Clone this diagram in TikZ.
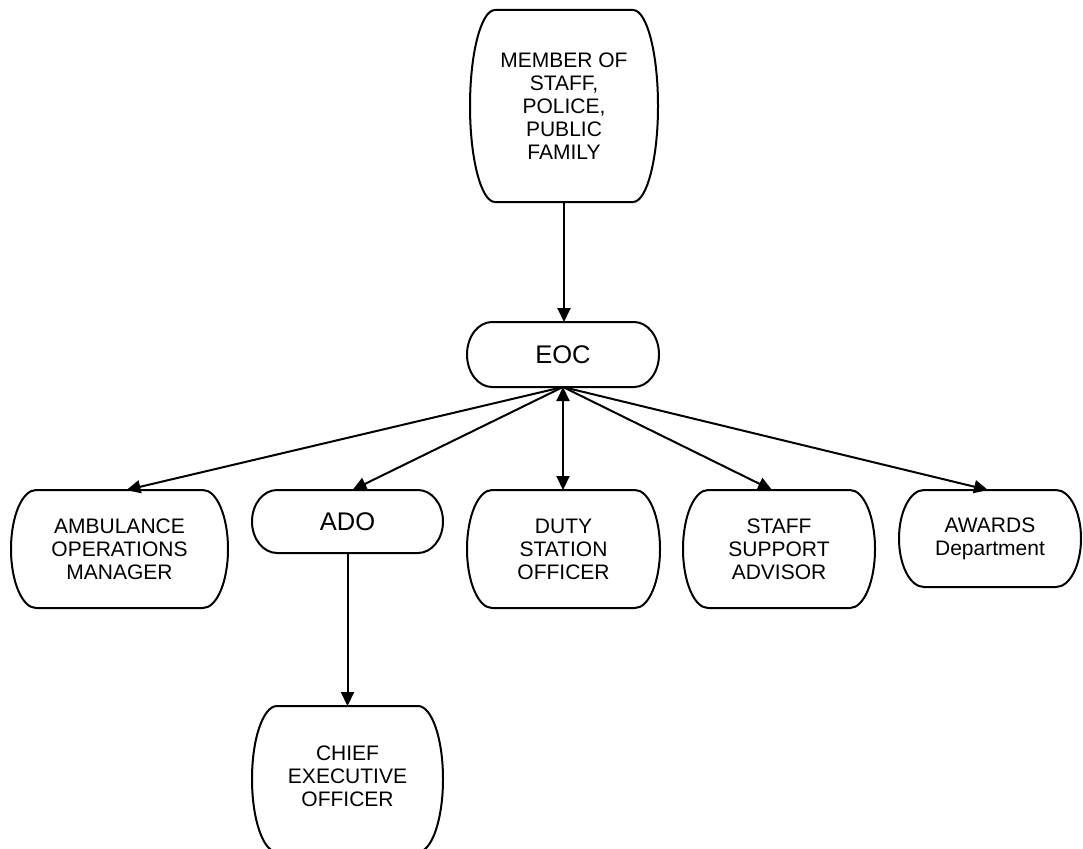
\documentclass[tikz,border=0pt]{standalone}
\usepackage{fontspec}
\setmainfont{Liberation Sans}
\usetikzlibrary{arrows.meta}
\tikzset{
  boxline/.style={line width=2pt},
  txt/.style={inner sep=0pt, outer sep=0pt, align=center, font=\fontsize{21}{23}\selectfont},
  bigtxt/.style={font=\fontsize{25.5}{28}\selectfont},
  arr/.style={line width=2pt, -{Triangle[length=14pt,width=13pt]}},
  dblarr/.style={line width=2pt, {Triangle[length=14pt,width=13pt]}-{Triangle[length=14pt,width=13pt]}},
}
\newcommand\TermBox[7]{%
  \node[txt,#6,minimum width=#4pt,minimum height=#5pt] (#1) at (#2pt,-#3pt) {#7};
  \draw[boxline] ([xshift=25pt]#1.north west) -- ([xshift=-25pt]#1.north east)
    arc[start angle=90,end angle=-90,x radius=25pt,y radius=#5pt/2]
    -- ([xshift=25pt]#1.south west)
    arc[start angle=270,end angle=90,x radius=25pt,y radius=#5pt/2] -- cycle;
}
\begin{document}
\begin{tikzpicture}
\useasboundingbox (0,0) rectangle (1083pt,-848pt);
\begin{scope}
\clip (0,0) rectangle (1083pt,-848pt);
\TermBox{top}{564}{106}{188}{192}{}{MEMBER OF\\STAFF,\\POLICE,\\PUBLIC\\FAMILY}
\TermBox{eoc}{563}{354.5}{192}{65}{bigtxt}{EOC}
\TermBox{amb}{119.5}{549}{217}{118}{}{AMBULANCE\\OPERATIONS\\MANAGER}
\TermBox{ado}{347.5}{521.5}{191}{63}{bigtxt}{ADO}
\TermBox{duty}{563.5}{549}{193}{118}{}{DUTY\\STATION\\OFFICER}
\TermBox{staff}{779}{549}{192}{118}{}{STAFF\\SUPPORT\\ADVISOR}
\TermBox{awards}{990}{538.5}{182}{97}{}{AWARDS\\Department}
\TermBox{ceo}{347.5}{779}{191}{146}{}{\raisebox{7pt}{\begin{tabular}{@{}c@{}}CHIEF\\EXECUTIVE\\OFFICER\end{tabular}}}
\end{scope}
\draw[arr] (top.south) -- (top.south |- eoc.north);
\draw[arr] (eoc.south) -- ([xshift=7pt]amb.north);
\draw[arr] (eoc.south) -- ([xshift=5pt]ado.north);
\draw[dblarr] (eoc.south) -- (eoc.south |- duty.north);
\draw[arr] (eoc.south) -- ([xshift=-7pt]staff.north);
\draw[arr] (eoc.south) -- ([xshift=-2pt]awards.north);
\draw[arr] (ado.south) -- (ado.south |- ceo.north);
\end{tikzpicture}
\end{document}
